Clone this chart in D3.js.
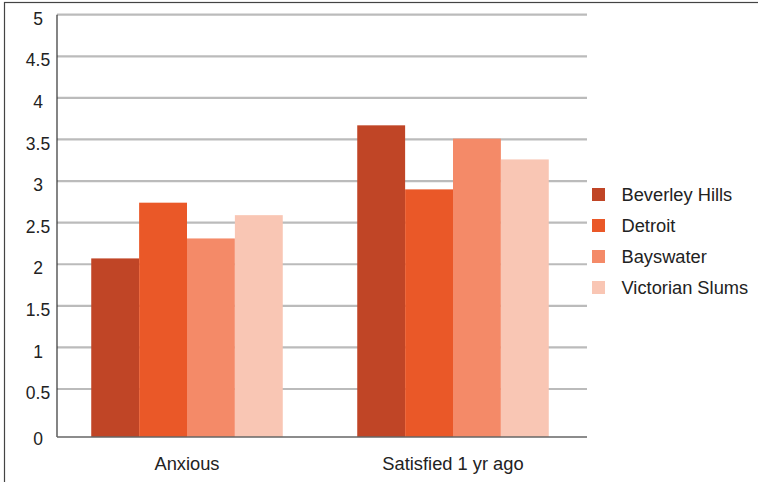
<!DOCTYPE html>
<html>
<head>
<meta charset="utf-8">
<script src="https://cdn.jsdelivr.net/npm/d3@7"></script>
<style>
  html, body { margin: 0; padding: 0; background: #fff; }
  svg { display: block; }
  text { font-family: "Liberation Sans", Arial, Helvetica, sans-serif; fill: #222; }
</style>
</head>
<body>
<svg id="chart" width="758" height="482"></svg>
<script>
const categories = ["Anxious", "Satisfied 1 yr ago"];
const seriesNames = ["Beverley Hills", "Detroit", "Bayswater", "Victorian Slums"];
const beverleyHills = [2.07, 3.67];
const detroit = [2.74, 2.90];
const bayswater = [2.31, 3.51];
const victorianSlums = [2.59, 3.26];
const seriesValues = [beverleyHills, detroit, bayswater, victorianSlums];
const yTicks = [0, 0.5, 1, 1.5, 2, 2.5, 3, 3.5, 4, 4.5, 5];
const colors = ["#c04526", "#ea5828", "#f48a68", "#f9c6b4"];

const svg = d3.select("#chart");
const plotLeft = 57, plotRight = 587;

// outer frame
svg.append("rect")
  .attr("x", 4.5).attr("y", 2.5)
  .attr("width", 800).attr("height", 600)
  .attr("fill", "none").attr("stroke", "#444").attr("stroke-width", 1.2);

// y scale: the bottom interval in the original is a bit taller
const y = d3.scaleLinear().domain([0, 0.5, 5]).range([437, 389, 14.7]);

const x0 = d3.scaleBand().domain(categories).range([54, 586])
  .paddingInner(0.28).paddingOuter(0.14);
const x1 = d3.scaleBand().domain(seriesNames).range([0, x0.bandwidth()]);
const color = d3.scaleOrdinal().domain(seriesNames).range(colors);

// gridlines
svg.append("g").selectAll("line")
  .data(yTicks.filter(d => d > 0))
  .join("line")
  .attr("x1", plotLeft).attr("x2", plotRight)
  .attr("y1", d => y(d)).attr("y2", d => y(d))
  .attr("stroke", "#bbbbbb").attr("stroke-width", 2.2);

// y labels
svg.append("g").selectAll("text")
  .data(yTicks)
  .join("text")
  .attr("x", 38)
  .attr("y", d => y(d) + (d === 0 ? 1.5 : 4))
  .attr("dy", "0.35em")
  .attr("text-anchor", "middle")
  .attr("font-size", 17.5)
  .text(d => d3.format("~g")(d));

// bars
const rows = [];
categories.forEach((c, i) => {
  seriesNames.forEach((s, j) => rows.push({ cat: c, series: s, value: seriesValues[j][i] }));
});
svg.append("g").selectAll("rect")
  .data(rows)
  .join("rect")
  .attr("x", d => x0(d.cat) + x1(d.series))
  .attr("width", x1.bandwidth())
  .attr("y", d => y(d.value))
  .attr("height", d => y(0) - y(d.value))
  .attr("fill", d => color(d.series));

// axes lines
svg.append("line")
  .attr("x1", plotLeft).attr("x2", plotLeft)
  .attr("y1", y(5)).attr("y2", y(0))
  .attr("stroke", "#333").attr("stroke-width", 1.2);
svg.append("line")
  .attr("x1", plotLeft).attr("x2", plotRight)
  .attr("y1", y(0)).attr("y2", y(0))
  .attr("stroke", "#666").attr("stroke-width", 1.6);

// category labels
svg.append("g").selectAll("text")
  .data(categories)
  .join("text")
  .attr("x", d => x0(d) + x0.bandwidth() / 2)
  .attr("y", 470)
  .attr("text-anchor", "middle")
  .attr("font-size", 18.3)
  .text(d => d);

// legend
const lg = svg.append("g").attr("transform", "translate(592,188)");
const item = lg.selectAll("g")
  .data(seriesNames)
  .join("g")
  .attr("transform", (d, i) => `translate(0,${i * 31})`);
item.append("rect")
  .attr("width", 13).attr("height", 13)
  .attr("fill", d => color(d));
item.append("text")
  .attr("x", 29.5).attr("y", 13)
  .attr("font-size", 18.3)
  .text(d => d);
</script>
</body>
</html>
